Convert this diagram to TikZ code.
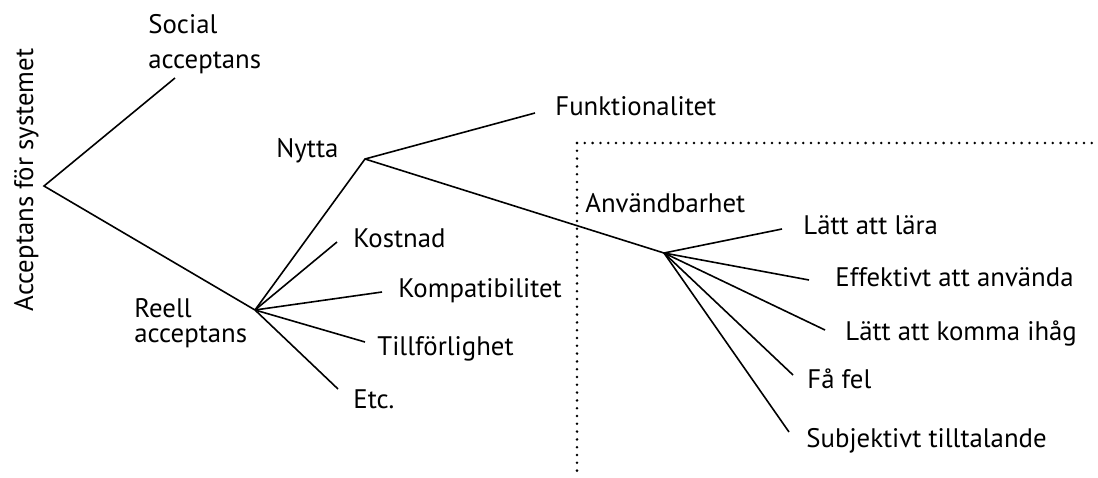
\documentclass[tikz,border=0pt]{standalone}
\usepackage{fontspec}
\setmainfont{PT Sans}
\usetikzlibrary{positioning}

\begin{document}
\begin{tikzpicture}[x=0.5pt, y=-0.5pt, font=\fontsize{13.4}{16}\selectfont,
    gren/.style={line width=0.8pt},
    etikett/.style={anchor=base west, inner sep=0pt, align=left},
    prickad/.style={line width=1.4pt, line cap=round, dash pattern=on 0pt off 3.9pt}]
\useasboundingbox (0,0) rectangle (1098,477);

% förgreningspunkter
\coordinate (rot) at (44,186);
\coordinate (reell) at (255,310);
\coordinate (nytta) at (365,159);
\coordinate (anv) at (664,253);

% ändpunkter
\coordinate (socE) at (175,78);
\coordinate (funkE) at (535,113);
\coordinate (kostE) at (337,242);
\coordinate (kompE) at (382,292);
\coordinate (tillE) at (365,342);
\coordinate (etcE) at (338,389);
\coordinate (laraE) at (782,229);
\coordinate (effE) at (809,280);
\coordinate (minnE) at (825,330);
\coordinate (felE) at (793,375);
\coordinate (subjE) at (789,432);

\node[rotate=90, anchor=base, inner sep=0pt] (helhet) at (33,180) {Acceptans för systemet};

% flerradiga noder: base = sista radens baslinje
\node[etikett] (social) at (148,68) {Social\\[1.5pt]acceptans};
\node[etikett] (reellTxt) at (134,342) {Reell\\[-3.5pt]acceptans};
\node[etikett] (nyttaTxt) at (276,157) {Nytta};
\node[etikett] (funk) at (555,115) {Funktionalitet};
\node[etikett] (anvTxt) at (585,212) {Användbarhet};
\node[etikett] (kost) at (353,247) {Kostnad};
\node[etikett] (komp) at (398,297) {Kompatibilitet};
\node[etikett] (till) at (377,355) {Tillförlighet};
\node[etikett] (etc) at (353,408) {Etc.};
\node[etikett] (lara) at (803,234) {Lätt att lära};
\node[etikett] (eff) at (835,286) {Effektivt att använda};
\node[etikett] (minn) at (845,340) {Lätt att komma ihåg};
\node[etikett] (fel) at (807,388) {Få fel};
\node[etikett] (subj) at (806,447) {Subjektivt tilltalande};

\draw[gren] (socE) -- (rot) -- (reell);
\draw[gren] (reell) -- (nytta) -- (funkE);
\draw[gren] (nytta) -- (anv);
\foreach \e in {kostE,kompE,tillE,etcE}
  \draw[gren] (reell) -- (\e);
\foreach \e in {laraE,effE,minnE,felE,subjE}
  \draw[gren] (anv) -- (\e);

% ram kring användbarhet
\draw[prickad] (577,143) -- (1098,143);
\draw[prickad] (577,143) -- (577,474);

\end{tikzpicture}
\end{document}
